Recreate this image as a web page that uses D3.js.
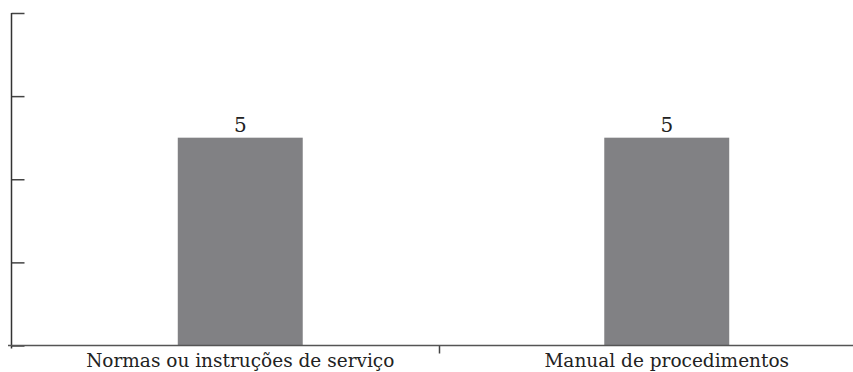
<!DOCTYPE html>
<html>
<head>
<meta charset="utf-8">
<script src="https://cdn.jsdelivr.net/npm/d3@7"></script>
<style>
    html, body { margin: 0; padding: 0; background: #fff; overflow: hidden; }
    svg { display: block; }
    .cat-label { font-family: "DejaVu Serif", serif; font-size: 18.5px; fill: #222; }
    .val-label { font-family: "DejaVu Serif", serif; font-size: 20px; fill: #222; }
</style>
</head>
<body>
<div id="chart"></div>
<script>
// Chart data
const categories = ['Normas ou instruções de serviço', 'Manual de procedimentos'];
const values = [5, 5];
const yTicks = [0, 2, 4, 6, 8];

document.addEventListener('DOMContentLoaded', function() {
    const width = 853;
    const height = 372;

    const svg = d3.select('#chart')
        .append('svg')
        .attr('width', width)
        .attr('height', height);

    // Scales
    const x = d3.scaleBand()
        .domain(categories)
        .range([27, 880]);
    const yScale = d3.scaleLinear()
        .domain([0, 8])
        .range([345.5, 13]);
    // axis divisions (category boundaries)
    const xAxisScale = d3.scaleLinear()
        .domain([0, categories.length])
        .range([11, 867]);

    const barWidth = x.bandwidth() * 0.293;

    // Bars
    svg.selectAll('rect.bar')
        .data(values)
        .enter()
        .append('rect')
        .attr('class', 'bar')
        .attr('x', (d, i) => x(categories[i]) + x.bandwidth() / 2 - barWidth / 2)
        .attr('y', d => yScale(d))
        .attr('width', barWidth)
        .attr('height', d => yScale(0) - yScale(d))
        .attr('fill', '#818184');

    // Value labels
    svg.selectAll('text.val-label')
        .data(values)
        .enter()
        .append('text')
        .attr('class', 'val-label')
        .attr('x', (d, i) => x(categories[i]) + x.bandwidth() / 2)
        .attr('y', d => yScale(d) - 6)
        .attr('text-anchor', 'middle')
        .text(d => d);

    // Y axis (ticks pointing inward, no labels)
    const yAxis = svg.append('g')
        .attr('transform', 'translate(11.5,0)')
        .call(d3.axisRight(yScale).tickValues(yTicks).tickSize(13).tickFormat(''));
    yAxis.select('.domain').remove();
    yAxis.selectAll('line').attr('stroke', '#444').attr('stroke-width', 1.5);
    svg.append('line')
        .attr('x1', 11.5).attr('x2', 11.5)
        .attr('y1', yScale(8)).attr('y2', yScale(0) + 3)
        .attr('stroke', '#333').attr('stroke-width', 1.5);

    // X axis
    const xAxis = svg.append('g')
        .attr('transform', `translate(0,${yScale(0)})`)
        .call(d3.axisBottom(xAxisScale).tickValues([1]).tickSize(8).tickFormat(''));
    xAxis.select('.domain').remove();
    xAxis.selectAll('line').attr('stroke', '#444').attr('stroke-width', 1.5);
    svg.append('line')
        .attr('x1', 8).attr('x2', width)
        .attr('y1', yScale(0)).attr('y2', yScale(0))
        .attr('stroke', '#555').attr('stroke-width', 1.5);

    // Category labels
    svg.selectAll('text.cat-label')
        .data(categories)
        .enter()
        .append('text')
        .attr('class', 'cat-label')
        .attr('x', d => x(d) + x.bandwidth() / 2)
        .attr('y', 367)
        .attr('text-anchor', 'middle')
        .text(d => d);
});
</script>
</body>
</html>
